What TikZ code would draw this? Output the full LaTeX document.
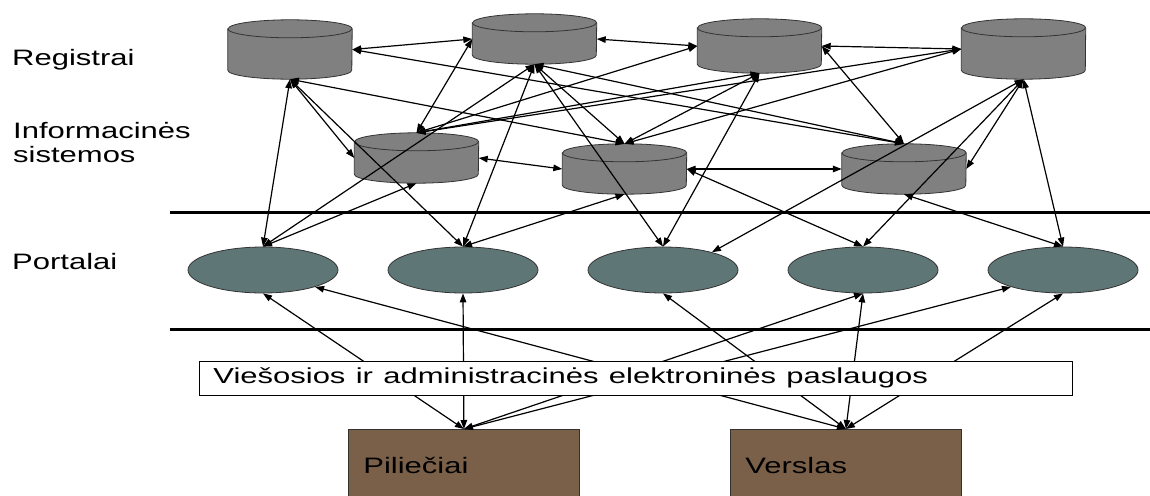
\documentclass[tikz,border=0pt]{standalone}
\usepackage{fontspec}
\setmainfont{Liberation Sans}
\usetikzlibrary{shapes.geometric,arrows.meta}

\definecolor{cylgray}{RGB}{128,128,128}
\definecolor{portalgray}{RGB}{95,118,118}
\definecolor{actorbrown}{RGB}{122,96,72}

\newcommand{\bigfont}{\fontsize{31}{34}\selectfont}
\newcommand{\squeezed}[1]{\scalebox{1}[0.72]{#1}}

% cylinder: name, x, y, height
\newcommand{\cyl}[4]{%
	\node[cylbox, minimum height=#4pt] (#1) at (#2,#3) {};
	\draw[cylline, fill=cylgray] ([yshift=-9pt]#1.north west) -- ([yshift=9pt]#1.south west)
		arc[start angle=180, end angle=360, x radius=62pt, y radius=9pt]
		-- ([yshift=-9pt]#1.north east)
		arc[start angle=0, end angle=180, x radius=62pt, y radius=9pt] -- cycle;
	\draw[cylline] ([yshift=-9pt]#1.north west) arc[start angle=180, end angle=360, x radius=62pt, y radius=9pt];
}

\begin{document}
\begin{tikzpicture}[x=1pt, y=-1pt,
	cylbox/.style={rectangle, minimum width=124pt, inner sep=0pt},
	cylline/.style={draw=black!80, line width=0.8pt},
	portal/.style={ellipse, draw=black!80, line width=0.8pt, fill=portalgray, minimum width=150pt, minimum height=46pt, inner sep=0pt},
	actor/.style={rectangle, draw=black!80, line width=0.8pt, fill=actorbrown, minimum width=231pt, minimum height=72pt, anchor=north west, inner xsep=15pt, inner ysep=0pt, text width=201pt, align=left, font=\bigfont},
	lbl/.style={anchor=base west, inner sep=0pt, align=left, font=\bigfont},
	link/.style={{Triangle[length=9pt,width=6.5pt]}-{Triangle[length=9pt,width=6.5pt]}, line width=1.2pt}]
	
	\useasboundingbox (0,0) rectangle (1150,495);
	
	% row labels
	\node[lbl] (lreg) at (12,65) {\squeezed{Registrai}};
	\node[lbl] (lis) at (13,162) {\squeezed{Informacinės}\\[-10pt]\squeezed{sistemos}};
	\node[lbl] (lpor) at (12,269) {\squeezed{Portalai}};
	
	% registers and information systems
	\cyl{r1}{290}{49.5}{59}
	\cyl{r2}{534.5}{39}{50}
	\cyl{r3}{759.5}{46}{54}
	\cyl{r4}{1023.5}{49}{60}
	\cyl{is1}{416.5}{158}{50}
	\cyl{is2}{624.5}{169}{50}
	\cyl{is3}{904}{169}{50}
	
	% separators
	\draw[line width=3pt] (170,212) -- (1150,212);
	\draw[line width=3pt] (170,329) -- (1150,329);
	
	% portals
	\foreach \i/\x in {1/263,2/463,3/663,4/863,5/1063}
		\node[portal] (p\i) at (\x,270) {};
	
	% users
	\node[actor] (cit) at (348,429) {\squeezed{Piliečiai}};
	\node[actor] (bus) at (730,429) {\squeezed{Verslas}};
	
	% links between the upper levels
	\foreach \a/\b in {r1.east/r2.west, r2.east/r3.west, r3.east/r4.west,
		r3.east/is3.north, r1.east/is3.north, r2.south/is3.north,
		r1.south/is1.west, r1.south/p1.north, r1.south/p2.north, r1.south/is2.north,
		r2.west/is1.north, r2.south/p1.north, r2.south/p2.north,
		r2.south/is2.north, r2.south/p3.north,
		is2.north/r3.south, is2.north/r4.west,
		is1.north/r3.south, is1.north/r4.west, is1.north/r3.west,
		r3.south/p3.north, r4.south/p3.20, r4.south/p4.north,
		r4.south/is3.east, r4.south/p5.north, is3.south/p5.north,
		is2.east/p4.north, is1.east/is2.west, is2.east/is3.west,
		is1.south/p1.north, is2.south/p2.north}
		\draw[link] (\a) -- (\b);
	
	% links from users to portals
	\foreach \a/\b in {cit.north/p1.south, cit.north/p2.south, cit.north/p4.south,
		cit.north/p5.198, bus.north/p1.-18, bus.north/p3.south,
		bus.north/p4.south, bus.north/p5.south}
		\draw[link] (\a) -- (\b);
	
	% services (drawn over the links)
	\node[draw, line width=0.8pt, fill=white, anchor=west, minimum width=873pt, minimum height=34pt, inner xsep=14pt, inner ysep=0pt, text width=845pt, align=left, font=\bigfont] (svc) at (199,378) {\scalebox{1}[0.7]{Viešosios ir administracinės elektroninės paslaugos}};
	
\end{tikzpicture}
\end{document}
